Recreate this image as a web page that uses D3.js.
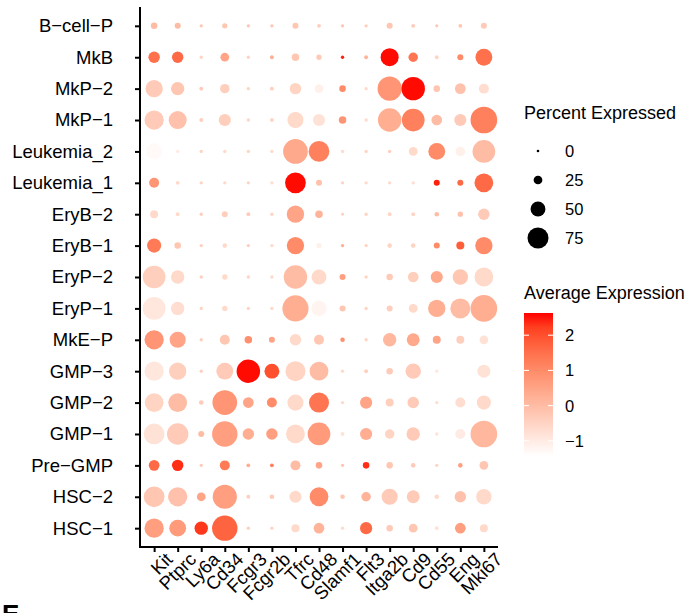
<!DOCTYPE html>
<html>
<head>
<meta charset="utf-8">
<script src="https://cdn.jsdelivr.net/npm/d3@7"></script>
<style>
  body { margin: 0; background: #fff; }
  svg text { font-family: "Liberation Sans", Arial, sans-serif; fill: #000; }
  .axis path, .axis line { stroke: #000; stroke-width: 2; }
  .axis text { font-size: 18.5px; }
  .leg-title { font-size: 18px; }
  .leg-lab { font-size: 16.5px; }
</style>
</head>
<body>
<div id="plot"></div>
<script>
// genes along x
const genes = ["Kit", "Ptprc", "Ly6a", "Cd34", "Fcgr3", "Fcgr2b", "Tfrc", "Cd48",
               "Slamf1", "Flt3", "Itga2b", "Cd9", "Cd55", "Eng", "Mki67"]

// cell types, bottom to top
const cellTypes = ["HSC\u22121", "HSC\u22122", "Pre\u2212GMP", "GMP\u22121", "GMP\u22122", "GMP\u22123",
                   "MkE\u2212P", "EryP\u22121", "EryP\u22122", "EryB\u22121", "EryB\u22122",
                   "Leukemia_1", "Leukemia_2", "MkP\u22121", "MkP\u22122", "MkB", "B\u2212cell\u2212P"]

// percent expressed, one row per cell type (same order as cellTypes)
const pctExp = [
  [68, 58, 44, 93, 3, 3, 22, 33, 3, 39, 16, 25, 5, 33, 22],
  [74, 68, 25, 88, 5, 8, 39, 66, 8, 28, 55, 42, 8, 36, 52],
  [33, 36, 3, 30, 5, 5, 30, 16, 3, 16, 16, 8, 3, 8, 25],
  [74, 77, 14, 93, 36, 36, 66, 82, 5, 39, 28, 44, 3, 30, 98],
  [66, 66, 8, 90, 33, 30, 55, 71, 3, 39, 22, 36, 3, 30, 47],
  [68, 60, 3, 58, 85, 50, 71, 66, 3, 5, 16, 52, 3, 0, 42],
  [68, 55, 3, 30, 20, 14, 36, 30, 8, 3, 44, 42, 22, 22, 25],
  [82, 44, 3, 11, 3, 3, 96, 52, 14, 3, 14, 25, 60, 71, 98],
  [82, 44, 3, 11, 3, 3, 85, 50, 14, 3, 16, 33, 39, 52, 66],
  [47, 16, 3, 8, 3, 3, 60, 11, 3, 3, 8, 8, 14, 22, 60],
  [22, 5, 3, 14, 5, 3, 60, 20, 1, 3, 5, 5, 8, 11, 36],
  [30, 5, 3, 3, 3, 3, 74, 14, 3, 3, 3, 3, 14, 14, 66],
  [55, 3, 3, 3, 3, 3, 90, 74, 3, 3, 3, 25, 58, 28, 82],
  [68, 63, 5, 39, 3, 5, 55, 39, 20, 3, 85, 82, 33, 39, 98],
  [60, 44, 5, 28, 3, 5, 36, 25, 16, 3, 88, 85, 16, 33, 30],
  [36, 36, 3, 25, 3, 5, 20, 11, 3, 5, 63, 28, 5, 14, 58],
  [16, 14, 3, 11, 3, 3, 14, 5, 3, 3, 14, 5, 3, 5, 14]
]

// average (scaled) expression, same layout
const avgExp = [
  [0.6, 0.7, 2.3, 1.7, -0.4, -0.5, -0.6, 0.2, -0.6, 1.6, -0.3, -0.2, -0.8, 0.6, -0.6],
  [-0.2, -0.1, 0.5, 0.6, -0.4, -0.3, -0.6, 1.0, -0.2, 0.2, -0.3, -0.3, -0.6, -0.1, -0.6],
  [1.6, 2.4, -0.3, 1.3, 0.3, 1.2, 0.0, 0.5, -0.2, 2.4, -0.2, -0.3, -0.5, 0.6, -0.2],
  [-0.8, -0.3, 0.0, 0.6, 0.3, 0.6, -0.6, 0.7, -0.8, 0.3, -0.5, -0.3, -0.8, -1.0, 0.1],
  [-0.5, 0.0, -0.3, 0.8, 0.5, 1.0, -0.6, 1.4, -0.6, 0.5, -0.4, -0.3, -0.7, -0.7, -0.6],
  [-0.9, -0.4, -0.4, -0.3, 2.6, 2.0, -0.5, 0.0, -0.6, -0.4, -0.3, -0.3, -0.9, -1.4, -0.8],
  [0.8, 0.5, -0.4, -0.2, 0.9, 0.5, -0.6, -0.2, 0.9, -0.5, 0.1, 0.4, 0.5, -0.4, -0.8],
  [-0.9, -0.7, -0.5, -0.6, -0.5, -0.6, 0.3, -1.2, -0.2, -0.5, -0.4, -0.6, 0.3, 0.0, 0.3],
  [-0.4, -0.6, -0.4, -0.6, -0.5, -0.6, 0.0, -0.6, 0.6, -0.5, -0.3, -0.4, 0.4, -0.2, -0.6],
  [1.3, -0.2, -0.4, -0.6, -0.4, -0.6, 1.0, -1.1, 0.3, -0.5, -0.5, -0.5, 1.0, 1.8, 1.0],
  [-0.6, -0.6, -0.4, -0.4, -0.3, -0.5, 0.5, 0.2, -0.4, -0.5, -0.5, -0.5, 0.0, -0.1, -0.3],
  [0.8, -0.6, -0.5, -0.6, -0.5, -0.7, 2.6, -0.1, -0.5, -0.6, -0.6, -0.7, 2.5, 1.6, 1.6],
  [-1.3, -1.0, -0.5, -0.6, -0.5, -0.6, 0.4, 1.2, -0.6, -0.5, -0.4, -0.6, 1.0, -1.1, 0.0],
  [-0.3, -0.1, -0.4, -0.4, -0.5, -0.5, -0.6, -0.8, 0.8, -0.6, 0.3, 1.2, 0.0, -0.3, 1.2],
  [-0.3, -0.2, -0.3, -0.4, -0.5, -0.4, -0.5, -1.1, 1.0, -0.6, 0.8, 2.6, -0.2, -0.1, -0.7],
  [1.5, 1.6, -0.5, 0.5, -0.5, 0.3, -0.2, -0.3, 2.5, 0.2, 2.6, 1.4, -0.5, 1.0, 1.5],
  [0.0, 0.0, -0.2, -0.2, -0.2, -0.2, -0.2, -0.4, -0.2, -0.4, -0.2, -0.3, -0.3, -0.2, -0.3]
]

const sizeBreaks = [0, 25, 50, 75]
const colorBreaks = [-1, 0, 1, 2]
const colorRange = [-1.43, 2.63]

const w = 689, h = 613
const margin = {top: 7, right: 191, bottom: 66, left: 140}

const svg = d3.select("#plot").append("svg")
  .attr("width", w)
  .attr("height", h)

const xScale = d3.scalePoint()
  .domain(genes)
  .range([margin.left, w - margin.right])
  .padding(0.6)

const yScale = d3.scalePoint()
  .domain(cellTypes)
  .range([h - margin.bottom, margin.top])
  .padding(0.6)

const rScale = d3.scaleLinear()
  .domain([0, 75])
  .range([1.3, 10.5])

const colorScale = d3.scaleLinear()
  .domain(colorRange)
  .range(["#ffffff", "#ff0000"])
  .interpolate(d3.interpolateLab)

// flatten into cells
const cells = []
cellTypes.forEach((ct, i) => {
  genes.forEach((g, j) => {
    cells.push({cell: ct, gene: g, pct: pctExp[i][j], avg: avgExp[i][j]})
  })
})

svg.append("g")
  .selectAll("circle")
  .data(cells)
  .join("circle")
  .attr("cx", d => xScale(d.gene))
  .attr("cy", d => yScale(d.cell))
  .attr("r", d => rScale(d.pct))
  .attr("fill", d => colorScale(d.avg))

// axes
const xAxis = svg.append("g")
  .attr("class", "axis")
  .attr("transform", `translate(0, ${h - margin.bottom})`)
  .call(d3.axisBottom(xScale).tickSize(5).tickSizeOuter(0))

xAxis.selectAll("text")
  .attr("text-anchor", "end")
  .attr("transform", "translate(8, 5) rotate(-45)")
  .attr("x", 0)
  .attr("y", 0)
  .attr("dx", "0.1em")
  .attr("dy", "0.75em")

const yAxis = svg.append("g")
  .attr("class", "axis")
  .attr("transform", `translate(${margin.left}, 0)`)
  .call(d3.axisLeft(yScale).tickSize(5).tickSizeOuter(0).tickPadding(22))

// y axis line and x axis line meeting at the corner
xAxis.select(".domain").attr("d", `M${margin.left - 1},0H${w - margin.right}`)
yAxis.select(".domain").attr("d", `M0,${margin.top}V${h - margin.bottom + 1}`)

// legend: percent expressed
const lx = 524
svg.append("text")
  .attr("class", "leg-title")
  .attr("x", lx)
  .attr("y", 119)
  .text("Percent Expressed")

const sizeLeg = svg.append("g")
  .selectAll("g")
  .data(sizeBreaks)
  .join("g")
  .attr("transform", (d, i) => `translate(538, ${151 + i * 29})`)

sizeLeg.append("circle")
  .attr("r", d => rScale(d))
  .attr("fill", "#000")

sizeLeg.append("text")
  .attr("class", "leg-lab")
  .attr("x", 27)
  .attr("dy", "0.36em")
  .text(d => d)

// legend: average expression
svg.append("text")
  .attr("class", "leg-title")
  .attr("x", lx)
  .attr("y", 299)
  .text("Average Expression")

const barTop = 313, barBottom = 456, barW = 29
const barScale = d3.scaleLinear()
  .domain(colorRange)
  .range([barBottom, barTop])

const grad = svg.append("defs").append("linearGradient")
  .attr("id", "grad")
  .attr("x1", 0).attr("y1", 1)
  .attr("x2", 0).attr("y2", 0)

d3.range(0, 1.0001, 0.1).forEach(t => {
  grad.append("stop")
    .attr("offset", t)
    .attr("stop-color", colorScale(colorRange[0] + t * (colorRange[1] - colorRange[0])))
})

svg.append("rect")
  .attr("x", lx)
  .attr("y", barTop)
  .attr("width", barW)
  .attr("height", barBottom - barTop)
  .attr("fill", "url(#grad)")

const cTicks = svg.append("g")
  .selectAll("g")
  .data(colorBreaks)
  .join("g")
  .attr("transform", d => `translate(${lx}, ${barScale(d)})`)

cTicks.append("line")
  .attr("x1", 0).attr("x2", 5)
  .attr("stroke", "#fff").attr("stroke-width", 1)
cTicks.append("line")
  .attr("x1", barW - 5).attr("x2", barW)
  .attr("stroke", "#fff").attr("stroke-width", 1)

cTicks.append("text")
  .attr("class", "leg-lab")
  .attr("x", barW + 12)
  .attr("dy", "0.36em")
  .text(d => d < 0 ? "\u2212" + Math.abs(d) : d)

// panel letter, cut off at the bottom
svg.append("text")
  .attr("x", 2)
  .attr("y", 623)
  .style("font-size", "26px")
  .style("font-weight", "bold")
  .text("E")
</script>
</body>
</html>
